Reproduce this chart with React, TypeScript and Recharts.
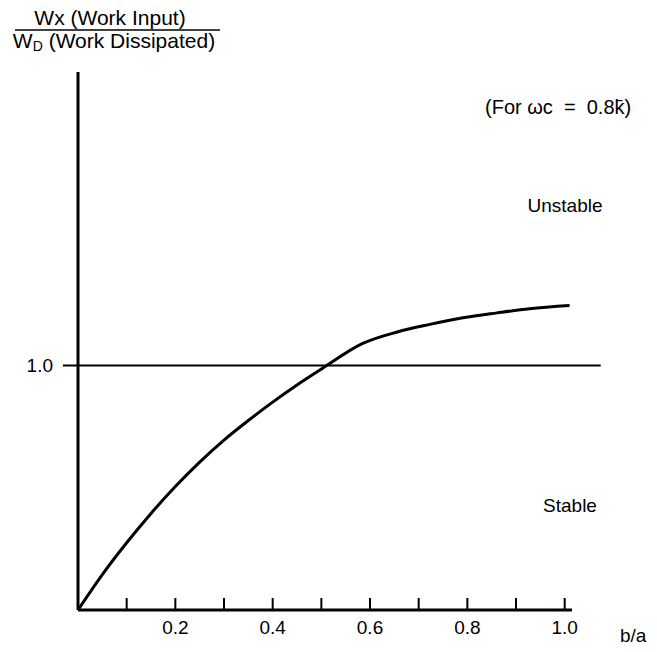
import React from "react";
import { LineChart, Line, XAxis, YAxis, ReferenceLine } from "recharts";

const bOverA = [0, 0.05, 0.1, 0.15, 0.2, 0.25, 0.3, 0.35, 0.4, 0.45, 0.5, 0.585, 0.656, 0.723, 0.791, 0.861, 0.928, 1.01];
const workRatio = [0, 0.145, 0.275, 0.395, 0.505, 0.605, 0.695, 0.775, 0.85, 0.92, 0.985, 1.09, 1.137, 1.168, 1.195, 1.215, 1.232, 1.245];
const xTicks = [0.1, 0.2, 0.3, 0.4, 0.5, 0.6, 0.7, 0.8, 0.9, 1.0];
const xLabeled = [0.2, 0.4, 0.6, 0.8, 1.0];
const yTicks = [1];

const data = bOverA.map((x, i) => ({ x, y: workRatio[i] }));
const FONT = "'Liberation Sans', Arial, Helvetica, sans-serif";

const XTick = (props: any) => {
  const { x, y, payload } = props;
  const v = payload.value;
  const show = xLabeled.some((t) => Math.abs(t - v) < 1e-6);
  return (
    <g>
      <line x1={x} y1={y} x2={x} y2={y - 12} stroke="#000" strokeWidth={2} />
      {show && (
        <text x={x} y={y + 24} textAnchor="middle" fontSize={19} fontFamily={FONT} fill="#000">
          {v.toFixed(1)}
        </text>
      )}
    </g>
  );
};

export default function App() {
  return (
    <div style={{ position: "absolute", left: 0, top: 0, width: 657, height: 652, background: "#fff" }}>
      <LineChart
        width={657}
        height={652}
        data={data}
        margin={{ top: 72, right: 85, bottom: 12, left: 0 }}
      >
        <XAxis
          type="number"
          dataKey="x"
          domain={[0, 1.015]}
          ticks={xTicks}
          tick={<XTick />}
          tickLine={false}
          tickSize={0}
          tickMargin={0}
          height={30}
          axisLine={{ stroke: "#000", strokeWidth: 3 }}
          allowDataOverflow
        />
        <YAxis
          type="number"
          domain={[0, 2.2]}
          ticks={yTicks}
          tickFormatter={(v: number) => v.toFixed(1)}
          tickLine={false}
          tickSize={0}
          tickMargin={25}
          width={78}
          tick={{ fill: "#000", fontSize: 19, fontFamily: FONT }}
          axisLine={{ stroke: "#000", strokeWidth: 3 }}
          allowDataOverflow
        />
        <ReferenceLine
          segment={[{ x: -0.031, y: 1 }, { x: 1.074, y: 1 }]}
          stroke="#000"
          strokeWidth={2}
          ifOverflow="visible"
        />
        <Line
          type="monotone"
          dataKey="y"
          stroke="#000"
          strokeWidth={3}
          dot={false}
          isAnimationActive={false}
        />
      </LineChart>
      <svg
        width={657}
        height={652}
        style={{ position: "absolute", left: 0, top: 0, pointerEvents: "none" }}
        fontFamily={FONT}
      >
        <text x={110} y={25} textAnchor="middle" fontSize={21} fill="#000">Wx (Work Input)</text>
        <line x1={15} y1={30} x2={220} y2={30} stroke="#000" strokeWidth={1.5} />
        <text x={114} y={48} textAnchor="middle" fontSize={21} fill="#000">
          W<tspan fontSize={14} dy={3}>D</tspan><tspan dy={-3}> (Work Dissipated)</tspan>
        </text>
        <text x={485} y={114} fontSize={20} fill="#000" xmlSpace="preserve">(For ωc  =  0.8k̄)</text>
        <text x={565} y={212} textAnchor="middle" fontSize={19} fill="#000">Unstable</text>
        <text x={570} y={512} textAnchor="middle" fontSize={19} fill="#000">Stable</text>
        <text x={620} y={642} fontSize={19} fill="#000">b/a</text>
      </svg>
    </div>
  );
}
